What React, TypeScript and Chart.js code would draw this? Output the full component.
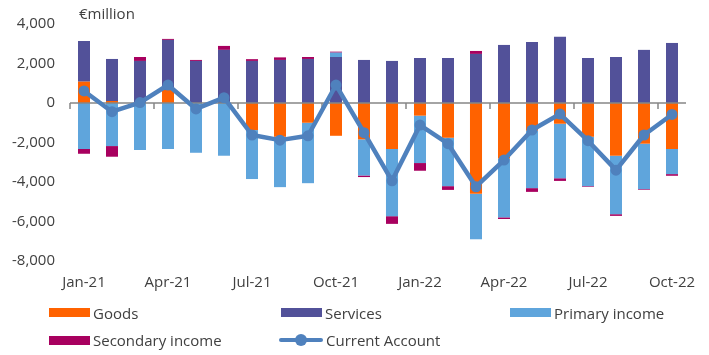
import React, { useEffect, useRef } from "react";
import { Chart, registerables } from "chart.js";

Chart.register(...registerables);

const months = [
  "Jan-21", "Feb-21", "Mar-21", "Apr-21", "May-21", "Jun-21", "Jul-21", "Aug-21", "Sep-21", "Oct-21", "Nov-21",
  "Dec-21", "Jan-22", "Feb-22", "Mar-22", "Apr-22", "May-22", "Jun-22", "Jul-22", "Aug-22", "Sep-22", "Oct-22",
];
const goods = [1080, 100, 0, 660, 0, 0, -1370, -1710, -1000, -1660, -1840, -2330, -640, -1760, -4600, -2810, -1400, -1050, -1710, -2670, -2060, -2330];
const services = [2060, 2130, 2130, 2535, 2130, 2690, 2130, 2180, 2230, 2330, 2180, 2130, 2280, 2280, 2485, 2940, 3090, 3350, 2280, 2330, 2690, 3040];
const primaryIncome = [-2330, -2180, -2380, -2330, -2520, -2670, -2480, -2550, -3060, 220, -1830, -3400, -2400, -2450, -2300, -2980, -2910, -2760, -2500, -2960, -2300, -1270];
const secondaryIncome = [-240, -540, 200, 50, 50, 200, 90, 130, 100, 50, -80, -390, -390, -190, 150, -85, -190, -135, -35, -85, -35, -85];
const currentAccount = [610, -440, 20, 910, -300, 270, -1620, -1880, -1660, 910, -1500, -3940, -1120, -2060, -4240, -2890, -1370, -560, -1910, -3400, -1620, -580];
const yTicks = { min: -8000, max: 4000, step: 2000 };
const unitText = "€million";

const FONT = '"Open Sans", sans-serif';
const TEXT = "#404040";
const C_GOODS = "#FF6200";
const C_SERV = "#525199";
const C_PRIM = "#5FA5DC";
const C_SEC = "#A8005F";
const C_CA = "#4F81BD";

const zeroAxis = {
  id: "zeroAxis",
  beforeDatasetDraw(chart: any, args: any) {
    if (args.meta.type !== "line") return;
    const { ctx, chartArea, scales } = chart;
    const x = scales.x;
    const y = scales.y;
    const y0 = y.getPixelForValue(0);
    const w = x.getPixelForValue(1) - x.getPixelForValue(0);
    ctx.save();
    ctx.strokeStyle = "#868686";
    ctx.lineWidth = 1.5;
    ctx.beginPath();
    ctx.moveTo(chartArea.left, y0);
    ctx.lineTo(chartArea.right, y0);
    for (let i = 0; i < months.length; i += 3) {
      const xb = x.getPixelForValue(i) - w / 2;
      ctx.moveTo(xb, y0);
      ctx.lineTo(xb, y0 + 6);
    }
    ctx.stroke();
    ctx.restore();
  },
};

const unitLabel = {
  id: "unitLabel",
  afterDraw(chart: any) {
    const { ctx, chartArea } = chart;
    ctx.save();
    ctx.font = `15px ${FONT}`;
    ctx.fillStyle = TEXT;
    ctx.textBaseline = "middle";
    ctx.textAlign = "left";
    ctx.fillText(unitText, chartArea.left + 9, chartArea.top - 9);
    ctx.restore();
  },
};

const legendItems = [
  { label: "Goods", color: C_GOODS, kind: "box", left: 49, row: 0 },
  { label: "Services", color: C_SERV, kind: "box", left: 281, row: 0 },
  { label: "Primary income", color: C_PRIM, kind: "box", left: 510, row: 0 },
  { label: "Secondary income", color: C_SEC, kind: "box", left: 49, row: 1 },
  { label: "Current Account", color: C_CA, kind: "line", left: 279, row: 1 },
];

export default function App() {
  const ref = useRef<HTMLCanvasElement | null>(null);

  useEffect(() => {
    if (!ref.current) return;
    const barCommon = { type: "bar", stack: "bal", order: 1, barPercentage: 0.43, categoryPercentage: 1 };
    const chart = new Chart(ref.current, {
      type: "bar",
      data: {
        labels: months,
        datasets: [
          {
            type: "line",
            label: "Current Account",
            data: currentAccount,
            stack: "ca",
            order: 0,
            borderColor: C_CA,
            backgroundColor: C_CA,
            borderWidth: 4.5,
            pointRadius: 5.5,
            pointBorderWidth: 0,
            pointBackgroundColor: C_CA,
            tension: 0,
            borderJoinStyle: "round",
            borderCapStyle: "round",
          },
          { ...barCommon, label: "Goods", data: goods, backgroundColor: C_GOODS },
          { ...barCommon, label: "Services", data: services, backgroundColor: C_SERV },
          { ...barCommon, label: "Primary income", data: primaryIncome, backgroundColor: C_PRIM },
          { ...barCommon, label: "Secondary income", data: secondaryIncome, backgroundColor: C_SEC },
        ] as any,
      },
      options: {
        responsive: false,
        animation: false,
        layout: { padding: { left: 0, right: 23, top: 24, bottom: 60 } },
        plugins: { legend: { display: false }, tooltip: { enabled: false } },
        scales: {
          x: {
            stacked: true,
            grid: { display: false, drawTicks: false },
            border: { display: false },
            ticks: {
              autoSkip: false,
              maxRotation: 0,
              padding: 13,
              color: TEXT,
              font: { family: FONT, size: 15 },
              callback: (_v: any, i: number) => (i % 3 === 0 ? months[i] : ""),
            },
            afterFit: (s: any) => {
              s.height = 34;
            },
          },
          y: {
            stacked: true,
            min: yTicks.min,
            max: yTicks.max,
            grid: { display: false, drawTicks: false },
            border: { display: false },
            ticks: { stepSize: yTicks.step, padding: 15, color: TEXT, font: { family: FONT, size: 15 } },
            afterFit: (s: any) => {
              s.width = 70;
            },
          },
        },
      } as any,
      plugins: [zeroAxis, unitLabel],
    });
    return () => chart.destroy();
  }, []);

  return (
    <div style={{ position: "absolute", left: 0, top: 0, width: 709, height: 355, background: "#fff" }}>
      <canvas ref={ref} width={709} height={355} style={{ display: "block" }} />
      {legendItems.map((it) => {
        const cy = it.row === 0 ? 312.5 : 340;
        return (
          <div
            key={it.label}
            style={{
              position: "absolute",
              left: it.left,
              top: cy - 11,
              height: 22,
              display: "flex",
              alignItems: "center",
              fontFamily: FONT,
              fontSize: 15,
              color: TEXT,
              whiteSpace: "nowrap",
            }}
          >
            {it.kind === "box" ? (
              <div style={{ width: 41, height: 9, background: it.color, marginRight: 3 }} />
            ) : (
              <div style={{ position: "relative", width: 44, height: 12, marginRight: 3 }}>
                <div
                  style={{ position: "absolute", left: 0, top: 4, width: 44, height: 4, borderRadius: 2, background: it.color }}
                />
                <div
                  style={{ position: "absolute", left: 16, top: 0, width: 12, height: 12, borderRadius: 6, background: it.color }}
                />
              </div>
            )}
            <span>{it.label}</span>
          </div>
        );
      })}
    </div>
  );
}
